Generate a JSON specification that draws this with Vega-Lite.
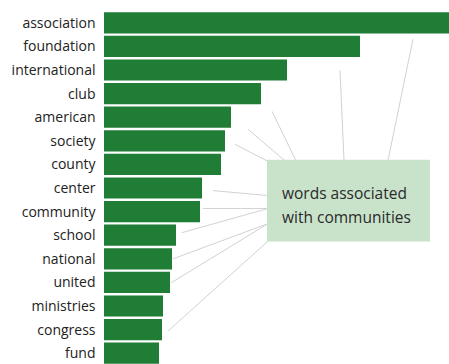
{
  "$schema": "https://vega.github.io/schema/vega-lite/v6.json",
  "width": 345,
  "height": 354,
  "autosize": "none",
  "padding": {"left": 104, "top": 11, "right": 0, "bottom": 0},
  "config": {"view": {"stroke": null}, "font": "Open Sans"},
  "datasets": {
    "bars": [
      {"word": "association", "count": 345},
      {"word": "foundation", "count": 256},
      {"word": "international", "count": 183},
      {"word": "club", "count": 157},
      {"word": "american", "count": 127},
      {"word": "society", "count": 121},
      {"word": "county", "count": 117},
      {"word": "center", "count": 98},
      {"word": "community", "count": 96},
      {"word": "school", "count": 72},
      {"word": "national", "count": 68},
      {"word": "united", "count": 66},
      {"word": "ministries", "count": 59},
      {"word": "congress", "count": 58},
      {"word": "fund", "count": 55}
    ],
    "leaders": [
      {"word": "association", "x1": 309, "y1": 1.19, "x2": 284, "y2": 6.33},
      {"word": "foundation", "x1": 236, "y1": 2.51, "x2": 240, "y2": 6.33},
      {"word": "club", "x1": 168, "y1": 4.25, "x2": 192, "y2": 6.35},
      {"word": "american", "x1": 144, "y1": 5.01, "x2": 181, "y2": 6.35},
      {"word": "society", "x1": 131, "y1": 5.65, "x2": 163, "y2": 6.35},
      {"word": "center", "x1": 109, "y1": 7.61, "x2": 164, "y2": 7.82},
      {"word": "community", "x1": 99, "y1": 8.37, "x2": 164, "y2": 8.37},
      {"word": "school", "x1": 78, "y1": 9.39, "x2": 164, "y2": 8.37},
      {"word": "national", "x1": 69, "y1": 10.5, "x2": 164, "y2": 9.01},
      {"word": "united", "x1": 67, "y1": 11.52, "x2": 164, "y2": 9.01},
      {"word": "congress", "x1": 64, "y1": 13.56, "x2": 164, "y2": 9.75}
    ],
    "box": [{"x1": 163, "x2": 326, "y1": 6.3, "y2": 9.77}],
    "notes": [
      {"label": "words associated", "x": 178, "y": 7.95},
      {"label": "with communities", "x": 178, "y": 8.97}
    ]
  },
  "layer": [
    {
      "data": {"name": "bars"},
      "mark": {"type": "bar", "color": "#1f7d35"},
      "encoding": {
        "y": {
          "field": "word", "type": "nominal", "sort": null,
          "scale": {"paddingInner": 0.1, "paddingOuter": 0.05},
          "axis": {"title": null, "ticks": false, "domain": false, "labelPadding": 9, "labelOffset": 1, "labelFontSize": 14, "labelColor": "#222222", "labelFont": "Open Sans"}
        },
        "x": {"field": "count", "type": "quantitative", "scale": {"domain": [0, 345], "nice": false}, "axis": null}
      }
    },
    {
      "layer": [
        {
          "data": {"name": "leaders"},
          "mark": {"type": "rule", "color": "#d2d2d2", "strokeWidth": 1},
          "encoding": {
            "x": {"field": "x1", "type": "quantitative"},
            "x2": {"field": "x2"},
            "y": {"field": "y1", "type": "quantitative", "scale": {"domain": [0, 15], "nice": false, "zero": false, "reverse": true}, "axis": null},
            "y2": {"field": "y2"}
          }
        },
        {
          "data": {"name": "box"},
          "mark": {"type": "rect", "color": "#c9e3cb"},
          "encoding": {
            "x": {"field": "x1", "type": "quantitative"},
            "x2": {"field": "x2"},
            "y": {"field": "y1", "type": "quantitative"},
            "y2": {"field": "y2"}
          }
        },
        {
          "data": {"name": "notes"},
          "mark": {"type": "text", "align": "left", "baseline": "alphabetic", "fontSize": 15.5, "color": "#2a2a2a", "font": "Open Sans"},
          "encoding": {
            "x": {"field": "x", "type": "quantitative"},
            "y": {"field": "y", "type": "quantitative"},
            "text": {"field": "label"}
          }
        }
      ]
    }
  ],
  "resolve": {"scale": {"y": "independent"}}
}
